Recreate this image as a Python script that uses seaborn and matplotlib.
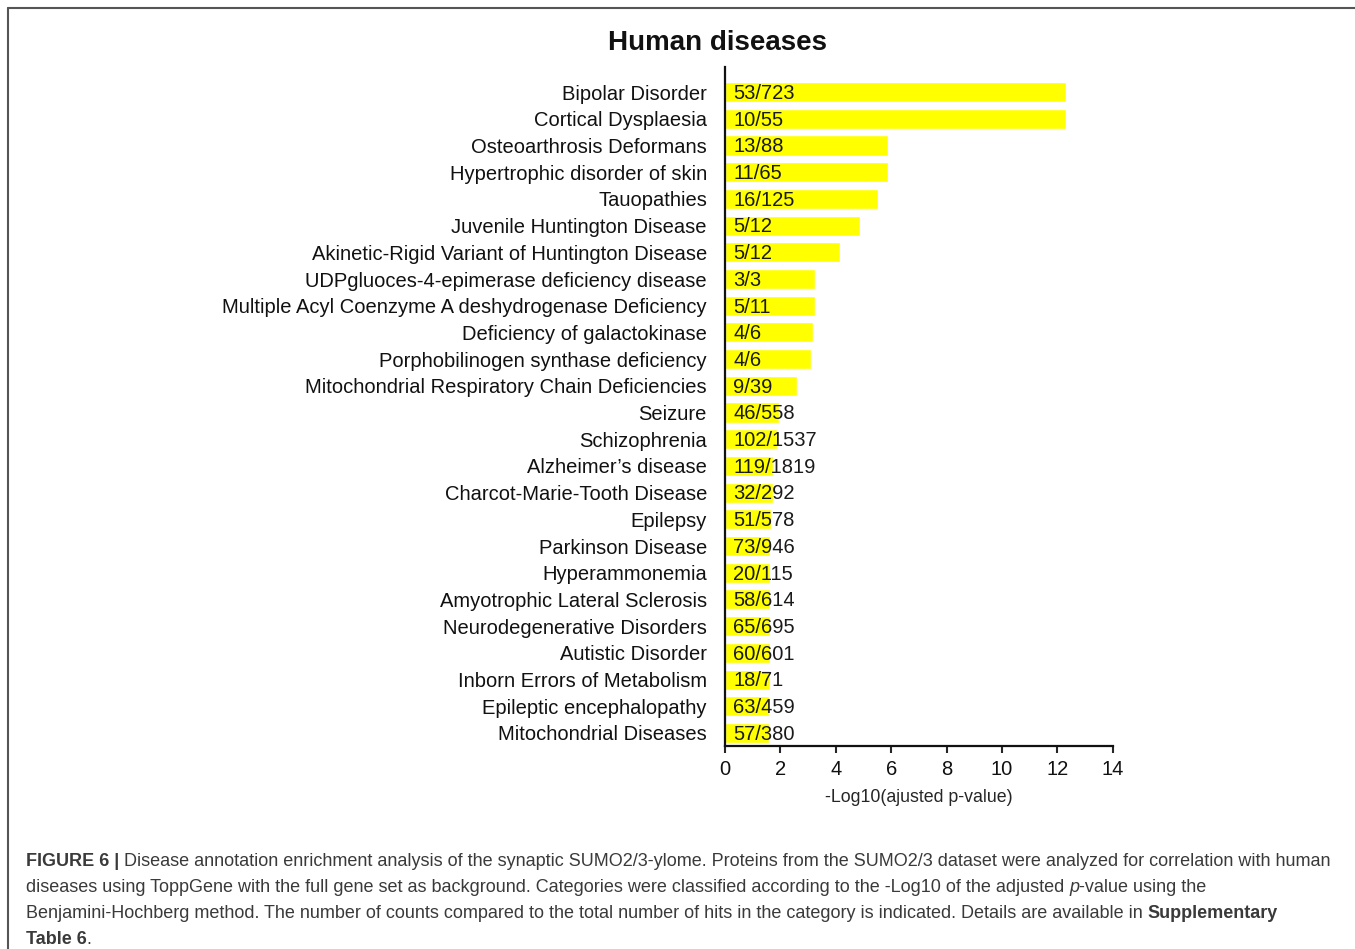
import matplotlib
matplotlib.use("Agg")
import matplotlib.pyplot as plt
import seaborn as sns
import pandas as pd
from matplotlib import font_manager
from matplotlib.lines import Line2D

# data
diseases = [
    "Bipolar Disorder",
    "Cortical Dysplaesia",
    "Osteoarthrosis Deformans",
    "Hypertrophic disorder of skin",
    "Tauopathies",
    "Juvenile Huntington Disease",
    "Akinetic-Rigid Variant of Huntington Disease",
    "UDPgluoces-4-epimerase deficiency disease",
    "Multiple Acyl Coenzyme A deshydrogenase Deficiency",
    "Deficiency of galactokinase",
    "Porphobilinogen synthase deficiency",
    "Mitochondrial Respiratory Chain Deficiencies",
    "Seizure",
    "Schizophrenia",
    "Alzheimer\u2019s disease",
    "Charcot-Marie-Tooth Disease",
    "Epilepsy",
    "Parkinson Disease",
    "Hyperammonemia",
    "Amyotrophic Lateral Sclerosis",
    "Neurodegenerative Disorders",
    "Autistic Disorder",
    "Inborn Errors of Metabolism",
    "Epileptic encephalopathy",
    "Mitochondrial Diseases",
]
log_p = [12.30, 12.30, 5.87, 5.87, 5.51, 4.88, 4.15, 3.25, 3.25, 3.18, 3.11, 2.59,
         1.96, 1.88, 1.75, 1.72, 1.66, 1.63, 1.63, 1.63, 1.63, 1.62, 1.62, 1.59, 1.59]
counts = ["53/723", "10/55", "13/88", "11/65", "16/125", "5/12", "5/12", "3/3", "5/11",
          "4/6", "4/6", "9/39", "46/558", "102/1537", "119/1819", "32/292", "51/578",
          "73/946", "20/115", "58/614", "65/695", "60/601", "18/71", "63/459", "57/380"]

x_ticks = [0, 2, 4, 6, 8, 10, 12, 14]
title = "Human diseases"
x_label = "-Log10(ajusted p-value)"

caption = [
    [("FIGURE 6 |", "bold", "normal"),
     (" Disease annotation enrichment analysis of the synaptic SUMO2/3-ylome. Proteins from the SUMO2/3 dataset were analyzed for correlation with human", "normal", "normal")],
    [("diseases using ToppGene with the full gene set as background. Categories were classified according to the -Log10 of the adjusted ", "normal", "normal"),
     ("p", "normal", "italic"),
     ("-value using the", "normal", "normal")],
    [("Benjamini-Hochberg method. The number of counts compared to the total number of hits in the category is indicated. Details are available in ", "normal", "normal"),
     ("Supplementary", "bold", "normal")],
    [("Table 6", "bold", "normal"), (".", "normal", "normal")],
]

sns.set_style("ticks")
installed = {f.name for f in font_manager.fontManager.ttflist}
narrow = "Liberation Sans Narrow" if "Liberation Sans Narrow" in installed else "Liberation Sans"
plt.rcParams["font.family"] = ["Liberation Sans", "DejaVu Sans"]

W, H = 1355, 949
df = pd.DataFrame({"Disease": diseases, "LogP": log_p, "Count": counts})

fig = plt.figure(figsize=(W / 100, H / 100), dpi=100)
ax = fig.add_axes([725 / W, 203 / H, (1112.7 - 725) / W, (746 - 67) / H])

sns.barplot(data=df, y="Disease", x="LogP", orient="h", color="#ffff00",
            saturation=1, width=0.75, ax=ax)

for i, c in enumerate(counts):
    ax.annotate(c, xy=(0, i), xytext=(6, -1), textcoords="offset points",
                va="center", ha="left", fontsize=14.5, family=narrow, color="#1a1a1a")

ax.set_xlim(0, 14)
ax.set_ylim(24.49, -0.94)
ax.set_xticks(x_ticks)
ax.set_xlabel(x_label, fontsize=12.8, family=narrow, labelpad=7)
ax.set_ylabel("")
for lbl in ax.get_yticklabels() + ax.get_xticklabels():
    lbl.set_family(narrow)
    lbl.set_fontsize(14.5)
    lbl.set_color("#111111")
ax.tick_params(axis="y", length=0, pad=13)
ax.tick_params(axis="x", length=5, width=1.5, direction="out", pad=5)
sns.despine(ax=ax)
for s in ["left", "bottom"]:
    ax.spines[s].set_linewidth(1.6)
    ax.spines[s].set_color("#111111")

fig.text(718 / W, 1 - 50 / H, title, ha="center", va="baseline",
         fontsize=20, fontweight="bold", color="#111111")

# thin frame around the panel
fig.add_artist(Line2D([8 / W, 1], [1 - 8 / H, 1 - 8 / H], transform=fig.transFigure,
                      color="#555555", lw=1.5))
fig.add_artist(Line2D([8 / W, 8 / W], [0, 1 - 8 / H], transform=fig.transFigure,
                      color="#555555", lw=1.5))

# caption with mixed bold / italic pieces
renderer = fig.canvas.get_renderer()
for row, pieces in enumerate(caption):
    x = 26
    base = 866 + row * 26
    for txt, weight, style in pieces:
        t = fig.text(x / W, 1 - base / H, txt, fontsize=13, fontweight=weight,
                     fontstyle=style, color="#3a3a3a", va="baseline", ha="left")
        x += t.get_window_extent(renderer=renderer).width

fig.savefig("out.png", dpi=100)
